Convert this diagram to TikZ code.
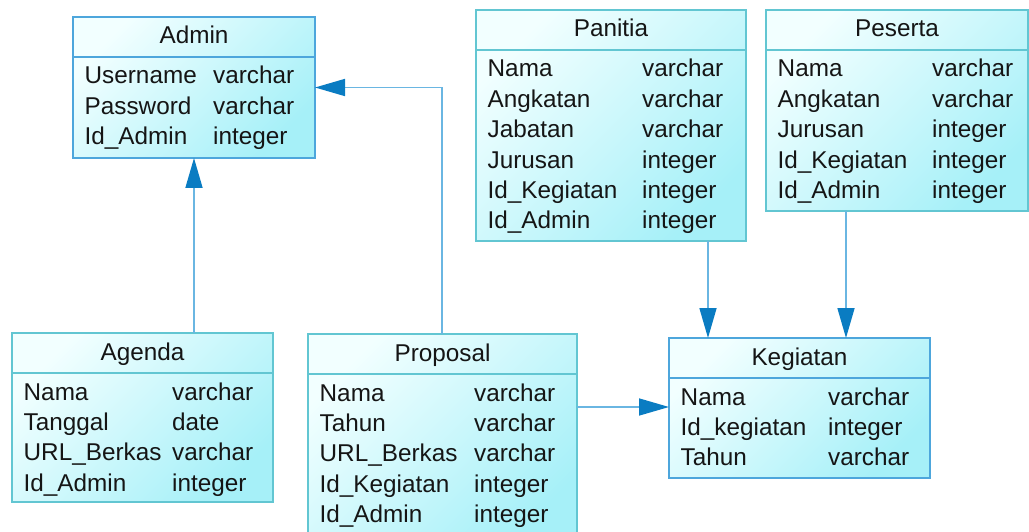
\documentclass[tikz,border=0pt]{standalone}
\usepackage{fontspec}
\setmainfont{Liberation Sans}
\usetikzlibrary{arrows.meta,calc}
\definecolor{bdblue}{HTML}{4DA6DC}
\definecolor{bdteal}{HTML}{62C6D2}
\definecolor{filllt}{HTML}{F2FFFF}
\definecolor{filldk}{HTML}{A6F0F8}
\definecolor{lineblue}{HTML}{6AB6E2}
\definecolor{tipblue}{HTML}{0A7CC2}
\definecolor{txt}{HTML}{151515}
\tikzset{
  tbl/.style={rectangle, draw=#1, line width=1.3pt, inner sep=0pt, outer sep=0pt,
    top color=filllt, bottom color=filldk, shading angle=45, anchor=north west},
  divline/.style={draw=#1, line width=1.3pt},
  hdr/.style={anchor=base, inner sep=0pt, text=txt, font=\fontsize{24.3}{28}\selectfont},
  fld/.style={anchor=base west, inner sep=0pt, text=txt, font=\fontsize{24.3}{28}\selectfont},
  conn/.style={draw=lineblue, line width=1.6pt, -{Triangle[length=30pt,width=17pt,color=tipblue]}}
}
% #1 name, #2 x, #3 y, #4 w, #5 h, #6 title, #7 border, #8 type offset, #9 rows
\newcommand{\ertable}[9]{%
  \node[tbl=#7, minimum width=#4pt, minimum height=#5pt] (#1) at (#2,#3) {};
  \node[hdr] (#1-title) at ({#2+#4/2},{#3+27}) {#6};
  \draw[divline=#7] ([yshift=-40pt]#1.north west) -- ([yshift=-40pt]#1.north east);
  \foreach \a/\b [count=\i] in {#9} {
    \node[fld] (#1-\i-a) at ({#2+11.5},{#3+67+30.4*(\i-1)}) {\a};
    \node[fld] (#1-\i-b) at ({#2+#8},{#3+67+30.4*(\i-1)}) {\b};
  }%
}
\begin{document}
\begin{tikzpicture}[x=1pt,y=-1pt]
\useasboundingbox (0,0) rectangle (1029,532);
\ertable{admin}{73}{17}{242}{141}{Admin}{bdblue}{140}{Username/varchar,Password/varchar,Id\_Admin/integer}
\ertable{panitia}{476}{10}{270}{231}{Panitia}{bdteal}{166}{Nama/varchar,Angkatan/varchar,Jabatan/varchar,Jurusan/integer,Id\_Kegiatan/integer,Id\_Admin/integer}
\ertable{peserta}{766}{10}{262}{201}{Peserta}{bdteal}{166}{Nama/varchar,Angkatan/varchar,Jurusan/integer,Id\_Kegiatan/integer,Id\_Admin/integer}
\ertable{agenda}{12}{333}{261}{169}{Agenda}{bdteal}{160}{Nama/varchar,Tanggal/date,URL\_Berkas/varchar,Id\_Admin/integer}
\ertable{proposal}{308}{334}{269}{212}{Proposal}{bdteal}{166}{Nama/varchar,Tahun/varchar,URL\_Berkas/varchar,Id\_Kegiatan/integer,Id\_Admin/integer}
\ertable{kegiatan}{669}{338}{261}{140}{Kegiatan}{bdblue}{159}{Nama/varchar,Id\_kegiatan/integer,Tahun/varchar}
% connectors
\draw[conn] ([xshift=182pt]agenda.north west) -- ([xshift=182pt]agenda.north west |- admin.south);
\draw[conn] ([xshift=134pt]proposal.north west) |- (admin.east);
\draw[conn] ([yshift=-73pt]proposal.north east) -- ([yshift=-73pt]proposal.north east -| kegiatan.west);
\draw[conn] ([xshift=232pt]panitia.south west) -- ([xshift=232pt]panitia.south west |- kegiatan.north);
\draw[conn] ([xshift=80pt]peserta.south west) -- ([xshift=80pt]peserta.south west |- kegiatan.north);
\end{tikzpicture}
\end{document}
